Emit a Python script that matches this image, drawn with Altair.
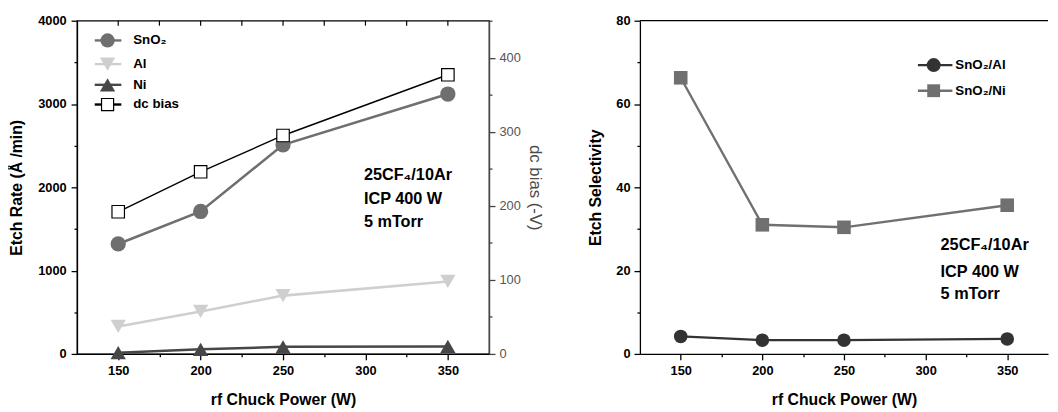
import altair as alt
import pandas as pd

# ---------------- data ----------------
power = [150, 200, 250, 350]
rate_series = ["SnO₂", "Al", "Ni"]
sno2_rate = [1320, 1710, 2510, 3120]
al_rate = [330, 510, 700, 870]
ni_rate = [15, 55, 85, 90]
dc_bias = [192, 246, 295, 377]

sel_series = ["SnO₂/Al", "SnO₂/Ni"]
sel_al = [4.2, 3.3, 3.3, 3.6]
sel_ni = [66.3, 31.0, 30.4, 35.7]

cond_lines = ["25CF₄/10Ar", "ICP 400 W", "5 mTorr"]

x_ticks = [150, 175, 200, 225, 250, 275, 300, 325, 350]
rate_ticks = [0, 500, 1000, 1500, 2000, 2500, 3000, 3500, 4000]
bias_ticks = [0, 50, 100, 150, 200, 250, 300, 350, 400, 450]
sel_ticks = [0, 10, 20, 30, 40, 50, 60, 70, 80]

# ---------------- tables ----------------
rate_df = pd.DataFrame({
    "power": power * 3,
    "rate": sno2_rate + al_rate + ni_rate,
    "series": [rate_series[0]] * 4 + [rate_series[1]] * 4 + [rate_series[2]] * 4,
})
bias_df = pd.DataFrame({"power": power, "bias": dc_bias})
sel_df = pd.DataFrame({
    "power": power * 2,
    "sel": sel_al + sel_ni,
    "series": [sel_series[0]] * 4 + [sel_series[1]] * 4,
})
top_tick_df = pd.DataFrame({"power": x_ticks})

FONT = "Liberation Sans"
rate_colors = ["#6f6f6f", "#cfcfcf", "#474747"]
rate_shapes = ["circle", "triangle-down", "triangle-up"]
sel_colors = ["#333333", "#707070"]
sel_shapes = ["circle", "square"]

W1, W2, H = 418, 414, 338


def tsize(step):
    return {"condition": {"test": f"datum.value % {step} === 0", "value": 6}, "value": 3}


def x_enc():
    return alt.X(
        "power:Q",
        scale=alt.Scale(domain=[125, 375], nice=False, zero=False),
        axis=alt.Axis(
            title="rf Chuck Power (W)",
            values=x_ticks,
            labelExpr="datum.value % 50 === 0 ? datum.label : ''",
            tickSize=tsize(50),
            grid=False,
            labelPadding=5,
            titlePadding=14,
        ),
    )


# ---------------- left panel ----------------
y_rate = alt.Y(
    "rate:Q",
    scale=alt.Scale(domain=[0, 4000], nice=False),
    axis=alt.Axis(
        title="Etch Rate (Å /min)",
        values=rate_ticks,
        labelExpr="datum.value % 1000 === 0 ? datum.label : ''",
        tickSize=tsize(1000),
        grid=False,
        format="d",
        labelPadding=5,
        titlePadding=13,
    ),
)
base_rate = alt.Chart(rate_df).encode(
    x=x_enc(),
    y=y_rate,
    color=alt.Color("series:N", scale=alt.Scale(domain=rate_series, range=rate_colors), legend=None),
)
rate_lines = base_rate.mark_line(strokeWidth=2.6)
rate_pts = base_rate.mark_point(filled=True, opacity=1, size=240).encode(
    shape=alt.Shape("series:N", scale=alt.Scale(domain=rate_series, range=rate_shapes), legend=None)
)
etch = alt.layer(rate_lines, rate_pts)

y_bias = alt.Y(
    "bias:Q",
    scale=alt.Scale(domain=[0, 450], nice=False),
    axis=alt.Axis(
        title="dc bias (-V)",
        orient="right",
        values=bias_ticks,
        labelExpr="datum.value % 100 === 0 ? datum.label : ''",
        tickSize=tsize(100),
        grid=False,
        labelFontWeight="normal",
        labelColor="#555555",
        titleColor="#4a4a4a",
        titleFontWeight="normal",
        titleFontSize=17,
        titleAngle=90,
        domainColor="#444444",
        tickColor="#444444",
        labelPadding=4,
        titlePadding=5,
    ),
)
base_bias = alt.Chart(bias_df).encode(x=x_enc(), y=y_bias)
bias = alt.layer(
    base_bias.mark_line(color="black", strokeWidth=1.4),
    base_bias.mark_point(shape="square", size=160, filled=True, fill="white",
                         stroke="black", strokeWidth=1.2, opacity=1),
)

top_ticks = alt.Chart(top_tick_df).mark_rule(color="black", strokeWidth=1.2).encode(
    x=x_enc(), y=alt.value(0), y2=alt.value(5))


def legend_item(label, ypix, x0, x1, xm, xt, line_color, mark_kw):
    d = pd.DataFrame({"label": [label]})
    c = alt.Chart(d)
    rule = c.mark_rule(color=line_color, strokeWidth=2.4).encode(
        x=alt.value(x0), x2=alt.value(x1), y=alt.value(ypix))
    pt = c.mark_point(opacity=1, **mark_kw).encode(x=alt.value(xm), y=alt.value(ypix))
    txt = c.mark_text(align="left", baseline="middle", font=FONT, fontWeight="bold",
                      fontSize=13.5, color="black").encode(
        x=alt.value(xt), y=alt.value(ypix), text="label:N")
    return [rule, pt, txt]


left_leg = []
left_leg += legend_item(rate_series[0], 20, 18, 45, 31, 57, rate_colors[0],
                        dict(shape="circle", filled=True, color=rate_colors[0], size=210))
left_leg += legend_item(rate_series[1], 44, 18, 45, 31, 57, rate_colors[1],
                        dict(shape="triangle-down", filled=True, color=rate_colors[1], size=240))
left_leg += legend_item(rate_series[2], 65, 18, 45, 31, 57, rate_colors[2],
                        dict(shape="triangle-up", filled=True, color=rate_colors[2], size=240))
left_leg += legend_item("dc bias", 85, 18, 45, 31, 57, "black",
                        dict(shape="square", filled=True, fill="white", stroke="black",
                             strokeWidth=1.2, size=150))


def cond_text(x, ys):
    out = []
    for t, yy in zip(cond_lines, ys):
        out.append(alt.Chart(pd.DataFrame({"t": [t]})).mark_text(
            align="left", baseline="middle", font=FONT, fontWeight="bold", fontSize=16.5,
            color="black").encode(x=alt.value(x), y=alt.value(yy), text="t:N"))
    return out


left = alt.layer(etch, bias, top_ticks, *left_leg, *cond_text(291, [157, 181, 204])).resolve_scale(
    y="independent").properties(width=W1, height=H)

# ---------------- right panel ----------------
y_sel = alt.Y(
    "sel:Q",
    scale=alt.Scale(domain=[0, 80], nice=False),
    axis=alt.Axis(
        title="Etch Selectivity",
        values=sel_ticks,
        labelExpr="datum.value % 20 === 0 ? datum.label : ''",
        tickSize=tsize(20),
        grid=False,
        labelPadding=4,
        titlePadding=12,
    ),
)
base_sel = alt.Chart(sel_df).encode(
    x=x_enc(),
    y=y_sel,
    color=alt.Color("series:N", scale=alt.Scale(domain=sel_series, range=sel_colors), legend=None),
)
sel_lines = base_sel.mark_line(strokeWidth=2.4)
sel_pts = base_sel.mark_point(filled=True, opacity=1, size=190).encode(
    shape=alt.Shape("series:N", scale=alt.Scale(domain=sel_series, range=sel_shapes), legend=None)
)

top_border = alt.Chart(pd.DataFrame({"b": [0]})).mark_rule(color="black", strokeWidth=1.3).encode(
    x=alt.value(0), x2=alt.value(W2), y=alt.value(0))

right_leg = []
right_leg += legend_item(sel_series[0], 45, 282, 317, 298, 320, sel_colors[0],
                         dict(shape="circle", filled=True, color=sel_colors[0], size=200))
right_leg += legend_item(sel_series[1], 71, 282, 317, 298, 320, sel_colors[1],
                         dict(shape="square", filled=True, color=sel_colors[1], size=170))

right = alt.layer(sel_lines, sel_pts, top_border, *right_leg,
                  *cond_text(305, [228, 255, 277])).properties(
    width=W2, height=H, view=alt.ViewBackground(stroke="transparent"))

chart = alt.hconcat(left, right, spacing=43).resolve_scale(
    color="independent", shape="independent"
).properties(
    padding={"left": 0, "top": 3, "right": 0, "bottom": 0}
).configure_view(
    stroke="black", strokeWidth=1.3
).configure_axis(
    labelFont=FONT, titleFont=FONT, labelFontSize=13, titleFontSize=16,
    labelFontWeight="bold", titleFontWeight="bold",
    labelColor="black", titleColor="black",
    domainColor="black", tickColor="black", domainWidth=1.3, tickWidth=1.3,
)

chart.save("out.html", embed_options={"renderer": "svg", "actions": False})
